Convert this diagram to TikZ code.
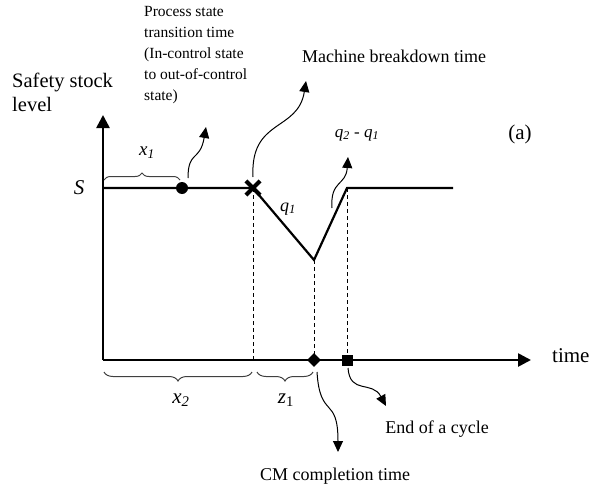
\documentclass[tikz,border=0pt]{standalone}
\usepackage{fontspec}
\setmainfont{Liberation Serif}
\usetikzlibrary{arrows.meta,shapes.geometric,shapes.misc,decorations.pathreplacing}
\begin{document}
\begin{tikzpicture}[x=1pt,y=-1pt,
  axis/.style={line width=2.6pt,-{Triangle[length=13pt,width=13pt]}},
  level/.style={line width=2.2pt,line join=miter},
  guide/.style={line width=0.8pt,dash pattern=on 4pt off 3pt},
  callout/.style={line width=1pt,-{Triangle[length=11pt,width=10pt]}},
  bracemark/.style={decorate,decoration={brace,amplitude=7pt},line width=1pt,draw=black!75},
  lbl/.style={inner sep=0pt,text=black},
  dotmark/.style={circle,fill=black,minimum size=12pt,inner sep=0pt},
  crossmark/.style={cross out,draw=black,line width=4.2pt,minimum size=10pt,inner sep=0pt},
  diamondmark/.style={diamond,fill=black,minimum size=14pt,inner sep=0pt},
  squaremark/.style={rectangle,fill=black,minimum size=11pt,inner sep=0pt}
]
\useasboundingbox (0,0) rectangle (593,492);
% axes
\coordinate (O) at (103,360);
\coordinate (Ytop) at (103,115);
\coordinate (Xend) at (531,360);
\draw[axis] (O) -- (Ytop);
\draw[axis] (O) -- (Xend);
% key points
\coordinate (A) at (103,188);
\coordinate (low) at (314,260);
\coordinate (peak) at (347,188);
\coordinate (fin) at (453,188);
\coordinate (bA) at (253,360);
% guides
\draw[guide] (253,188) -- (bA);
\draw[guide] (low) -- (low |- O);
\draw[guide] (peak) -- (peak |- O);
% level line
\draw[level] (A) -- (253,188) -- (low) -- (peak) -- (fin);
\node[dotmark] (dot) at (182,188) {};
\node[crossmark] (brk) at (253,188) {};
\node[diamondmark] (cm) at (314,360) {};
\node[squaremark] (eoc) at (347,360) {};
% braces
\draw[bracemark] (104,180) -- (180,180);
\draw[bracemark,decoration={amplitude=9pt}] (252,372) -- (104,372);
\draw[bracemark,decoration={amplitude=9pt}] (313,372) -- (257,372);
% labels
\node[lbl,anchor=north west,align=left,font=\fontsize{20.5}{24}\selectfont] (ylab) at (12,73) {Safety stock\\level};
\node[lbl,anchor=north west,align=left,font=\fontsize{15.5}{21}\selectfont] (ptt) at (144,6) {Process state\\transition time\\(In-control state\\to out-of-control\\state)};
\node[lbl,anchor=west,font=\fontsize{18}{20}\selectfont] (mbt) at (302,56) {Machine breakdown time};
\node[lbl,font=\fontsize{17}{18}\selectfont] (qq) at (357,135) {\textit{q}\textsubscript{\textit{2}} - \textit{q}\textsubscript{\textit{1}}};
\node[lbl,font=\fontsize{21}{24}\selectfont] (tag) at (520,134) {(a)};
\node[lbl,font=\fontsize{21}{24}\selectfont\itshape] (S) at (79,188) {S};
\node[lbl,font=\fontsize{18}{20}\selectfont] (q1) at (288,209) {\textit{q}\textsubscript{\textit{1}}};
\node[lbl,font=\fontsize{19}{20}\selectfont] (x1) at (147,153) {\textit{x}\textsubscript{\textit{1}}};
\node[lbl,font=\fontsize{21}{22}\selectfont] (x2) at (181,400) {\textit{x}\textsubscript{\textit{2}}};
\node[lbl,font=\fontsize{21}{22}\selectfont] (z1) at (286,400) {\textit{z}\textsubscript{1}};
\node[lbl,anchor=west,font=\fontsize{21}{24}\selectfont] (tm) at (552,356) {time};
\node[lbl,font=\fontsize{18}{20}\selectfont] (eocl) at (437,429) {End of a cycle};
\node[lbl,font=\fontsize{18}{20}\selectfont] (cml) at (335,476) {CM completion time};
% callout arrows
\coordinate (c1s) at (188,178);
\coordinate (c1e) at (206,127);
\draw[callout] (c1s) .. controls (188,150) and (200,162) .. (c1e);
\coordinate (c2s) at (253,177);
\coordinate (c2e) at (306,81);
\draw[callout] (c2s) .. controls (250,118) and (298,132) .. (c2e);
\coordinate (c3s) at (332,208);
\coordinate (c3e) at (348,157);
\draw[callout] (c3s) .. controls (330,180) and (346,186) .. (c3e);
\coordinate (c4s) at (317,372);
\coordinate (c4e) at (338,452);
\draw[callout] (c4s) .. controls (320,420) and (338,395) .. (c4e);
\coordinate (c5s) at (348,368);
\coordinate (c5e) at (386,406);
\draw[callout] (c5s) .. controls (350,395) and (372,380) .. (c5e);
\end{tikzpicture}
\end{document}
